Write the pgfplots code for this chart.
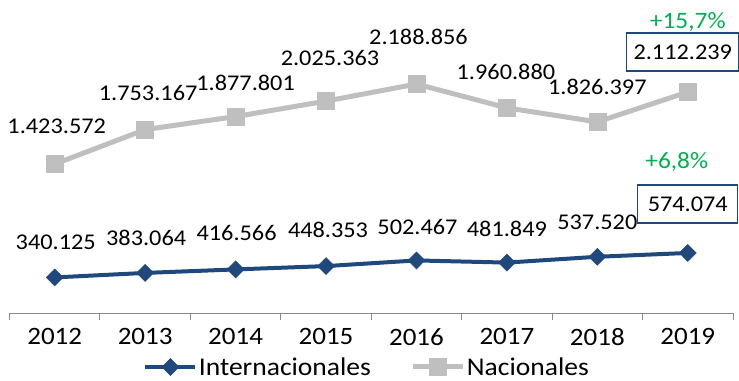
\documentclass[border=0pt]{standalone}
\usepackage{fontspec}
\setmainfont{Carlito}[FakeStretch=1.08]
\usepackage{pgfplots}
\pgfplotsset{compat=1.18}
\definecolor{dblue}{HTML}{1F497D}
\definecolor{lgray}{HTML}{BFBFBF}
\definecolor{agray}{HTML}{898989}
\definecolor{pgreen}{HTML}{00B050}
\tikzset{lbl/.style={font=\fontsize{22.5bp}{26bp}\selectfont, anchor=center, inner sep=0pt, text=black}}
\begin{document}
\begin{tikzpicture}
\begin{axis}[
  at={(0,0)}, anchor=south west,
  scale only axis, width=723.5bp, height=313bp,
  xmin=-0.5, xmax=7.5, ymin=0, ymax=2992000,
  hide y axis,
  axis x line*=bottom,
  x axis line style={agray, line width=1bp, -},
  xtick={0,...,7},
  xticklabels={2012,2013,2014,2015,2016,2017,2018,2019},
  major tick length=0pt,
  minor xtick={-0.5,0.5,1.5,2.5,3.5,4.5,5.5,6.5,7.5},
  minor tick length=7bp,
  tick align=outside,
  tick style={agray, line width=1bp},
  xticklabel style={font=\fontsize{25bp}{28bp}\selectfont, text=black, anchor=north, yshift=-12bp},
  clip=false,
  legend columns=2,
  legend style={at={(0.494,-0.1725)}, anchor=center, draw=none, fill=none,
    font=\fontsize{25.5bp}{28bp}\selectfont,
    /tikz/every even column/.append style={column sep=38bp},
    nodes={inner sep=1.5bp}},
  legend image code/.code={\draw[mark repeat=2,mark phase=2] plot coordinates {(0bp,0bp)(25bp,0bp)(50bp,0bp)};},
]
\addplot[dblue, line width=4bp, mark=diamond*, mark size=8.5bp,
  mark options={solid, xscale=1.33, line width=0.5bp, fill=dblue}]
  coordinates {(0,340125) (1,383064) (2,416566) (3,448353) (4,502467) (5,481849) (6,537520) (7,574074)};
\addlegendentry{Internacionales}
\addplot[lgray, line width=5bp, mark=square*, mark size=8.5bp,
  mark options={solid, line width=0.5bp, fill=lgray}]
  coordinates {(0,1423572) (1,1753167) (2,1877801) (3,2025363) (4,2188856) (5,1960880) (6,1826397) (7,2112239)};
\addlegendentry{Nacionales}

% data labels Nacionales
\node[lbl] at (axis cs:0,1423572) [xshift=2bp, yshift=38bp] {1.423.572};
\node[lbl] at (axis cs:1,1753167) [xshift=3bp, yshift=36.5bp] {1.753.167};
\node[lbl] at (axis cs:2,1877801) [xshift=10bp, yshift=33.5bp] {1.877.801};
\node[lbl] at (axis cs:3,2025363) [xshift=4bp, yshift=43bp] {2.025.363};
\node[lbl] at (axis cs:4,2188856) [xshift=2bp, yshift=47bp] {2.188.856};
\node[lbl] at (axis cs:5,1960880) [xshift=-1bp, yshift=36bp] {1.960.880};
\node[lbl] at (axis cs:6,1826397) [xshift=0bp, yshift=35bp] {1.826.397};
% data labels Internacionales
\node[lbl] at (axis cs:0,340125) [xshift=1bp, yshift=35bp] {340.125};
\node[lbl] at (axis cs:1,383064) [xshift=1bp, yshift=35bp] {383.064};
\node[lbl] at (axis cs:2,416566) [xshift=1bp, yshift=36bp] {416.566};
\node[lbl] at (axis cs:3,448353) [xshift=2bp, yshift=36bp] {448.353};
\node[lbl] at (axis cs:4,502467) [xshift=1bp, yshift=33bp] {502.467};
\node[lbl] at (axis cs:5,481849) [xshift=0bp, yshift=34bp] {481.849};
\node[lbl] at (axis cs:6,537520) [xshift=0bp, yshift=34bp] {537.520};
% boxed last values
\node[lbl, draw=dblue, line width=1.2bp, minimum width=112bp, minimum height=38bp]
  at (axis cs:7,2112239) [xshift=-5bp, yshift=40bp] {2.112.239};
\node[lbl, draw=dblue, line width=1.2bp, minimum width=100bp, minimum height=38bp]
  at (axis cs:7,574074) [xshift=0bp, yshift=49bp] {574.074};
\node[lbl, text=pgreen, font=\fontsize{23.5bp}{27bp}\selectfont]
  at (axis cs:7,2112239) [xshift=0bp, yshift=70bp] {+15,7\%};
\node[lbl, text=pgreen, font=\fontsize{23.5bp}{27bp}\selectfont]
  at (axis cs:7,574074) [xshift=-11bp, yshift=91bp] {+6,8\%};
\end{axis}
\pgfresetboundingbox
\path[use as bounding box] (-9.5bp,-68bp) rectangle (729.5bp,313bp);
\end{tikzpicture}
\end{document}
